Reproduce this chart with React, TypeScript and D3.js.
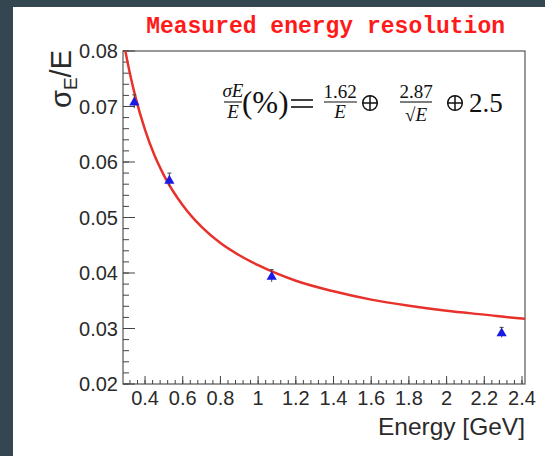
import React from "react";
import * as d3 from "d3";

const energies = [0.343, 0.529, 1.072, 2.292];
const resolutions = [0.0709, 0.0568, 0.0395, 0.0293];
const errors = [0.0012, 0.0012, 0.0011, 0.0009];

const fitEnergies = [0.29, 0.297, 0.32, 0.35, 0.4, 0.45, 0.5, 0.6, 0.7, 0.8, 0.9, 1.0, 1.2, 1.4, 1.6, 1.8, 2.0, 2.2, 2.4, 2.45];
const fitValues = [0.0812, 0.0798, 0.0759, 0.0716, 0.0658, 0.0612, 0.0576, 0.0522, 0.0483, 0.0454, 0.0432, 0.0414, 0.0386, 0.0367, 0.0352, 0.0341, 0.0332, 0.0325, 0.0318, 0.0317];

const xTickLabels = ["0.4", "0.6", "0.8", "1", "1.2", "1.4", "1.6", "1.8", "2", "2.2", "2.4"];
const yTickLabels = ["0.02", "0.03", "0.04", "0.05", "0.06", "0.07", "0.08"];

const W = 545;
const H = 456;
const L = 123, R = 525, T = 51, B = 384;

function OPlus({ cx, cy }: { cx: number; cy: number }) {
  const r = 7.3;
  return (
    <g stroke="#111" strokeWidth={1.5} fill="none">
      <circle cx={cx} cy={cy} r={r} />
      <line x1={cx - r} x2={cx + r} y1={cy} y2={cy} />
      <line x1={cx} x2={cx} y1={cy - r} y2={cy + r} />
    </g>
  );
}

export default function App() {
  const x = d3.scaleLinear().domain([0.283, 2.416]).range([L, R]);
  const y = d3.scaleLinear().domain([0.02, 0.08]).range([B, T]);

  const xMinor = d3.range(0.32, 2.416, 0.04).filter((v) => v >= 0.283);
  const yMinor = d3.range(0.02, 0.0801, 0.002);

  const line = d3
    .line<number>()
    .x((_, i) => x(fitEnergies[i]))
    .y((v) => y(v))
    .curve(d3.curveMonotoneX);

  const tri = d3.symbol().type(d3.symbolTriangle).size(45)();
  const sans = "'Liberation Sans', Arial, Helvetica, sans-serif";
  const serif = "'Liberation Serif', 'Times New Roman', serif";

  return (
    <svg width={W} height={H} style={{ position: "absolute", left: 0, top: 0 }}>
      <rect x={0} y={0} width={W} height={H} fill="#34464f" />
      <rect x={13} y={7} width={W - 13} height={H - 7} fill="#ffffff" />
      <defs>
        <clipPath id="plotclip">
          <rect x={L} y={T} width={R - L} height={B - T} />
        </clipPath>
      </defs>
      <text
        x={505}
        y={33}
        textAnchor="end"
        fontFamily="'Liberation Mono', 'Courier New', monospace"
        fontWeight="bold"
        fontSize={23}
        fill="#ff1a1a"
      >
        Measured energy resolution
      </text>

      {/* frame */}
      <rect x={L} y={T} width={R - L} height={B - T} fill="none" stroke="#555" strokeWidth={1.2} />

      {/* x ticks */}
      {xMinor.map((v, i) => (
        <line key={"xm" + i} x1={x(v)} x2={x(v)} y1={B} y2={B - 4} stroke="#444" strokeWidth={1} />
      ))}
      {xTickLabels.map((t) => (
        <g key={"xt" + t}>
          <line x1={x(+t)} x2={x(+t)} y1={B} y2={B - 8} stroke="#444" strokeWidth={1} />
          <text x={x(+t)} y={405} textAnchor="middle" fontFamily={sans} fontSize={20} fill="#2a2a2a">
            {t}
          </text>
        </g>
      ))}
      {/* y ticks */}
      {yMinor.map((v, i) => (
        <line key={"ym" + i} x1={L} x2={L + 6} y1={y(v)} y2={y(v)} stroke="#444" strokeWidth={1} />
      ))}
      {yTickLabels.map((t) => (
        <g key={"yt" + t}>
          <line x1={L} x2={L + 12} y1={y(+t)} y2={y(+t)} stroke="#444" strokeWidth={1} />
          <text x={118} y={y(+t)} dy="0.36em" textAnchor="end" fontFamily={sans} fontSize={20} fill="#2a2a2a">
            {t}
          </text>
        </g>
      ))}

      {/* axis titles */}
      <text x={525} y={435} textAnchor="end" fontFamily={sans} fontSize={24.5} fill="#2a2a2a">
        Energy [GeV]
      </text>
      <text
        transform="translate(71,50) rotate(-90)"
        textAnchor="end"
        fontFamily={sans}
        fontSize={29}
        fill="#2a2a2a"
      >
        σ<tspan fontSize={19} dy={6}>E</tspan>
        <tspan dy={-6}>/E</tspan>
      </text>

      {/* fit curve */}
      <g clipPath="url(#plotclip)">
        <path d={line(fitValues) || ""} fill="none" stroke="#e8312a" strokeWidth={2.5} />
      </g>

      {/* data points */}
      {energies.map((e, i) => (
        <g key={"p" + i}>
          <line x1={x(e)} x2={x(e)} y1={y(resolutions[i] - errors[i])} y2={y(resolutions[i] + errors[i])} stroke="#444" strokeWidth={1} />
          <line x1={x(e) - 2} x2={x(e) + 2} y1={y(resolutions[i] + errors[i])} y2={y(resolutions[i] + errors[i])} stroke="#444" strokeWidth={1} />
          <path d={tri || ""} transform={`translate(${x(e)},${y(resolutions[i]) + 1})`} fill="#1a1ae6" />
        </g>
      ))}

      {/* formula */}
      <g fontFamily={serif} fill="#111">
        <text x={233} y={97} textAnchor="middle" fontSize={19} fontStyle="italic">σE</text>
        <line x1={224} x2={242} y1={102} y2={102} stroke="#111" strokeWidth={1.1} />
        <text x={233} y={118} textAnchor="middle" fontSize={19} fontStyle="italic">E</text>
        <text x={242} y={113} fontSize={31}>(%)</text>
        <line x1={291} x2={313} y1={100} y2={100} stroke="#111" strokeWidth={1.6} />
        <line x1={291} x2={313} y1={107} y2={107} stroke="#111" strokeWidth={1.6} />
        <text x={340} y={98} textAnchor="middle" fontSize={19}>1.62</text>
        <line x1={324} x2={357} y1={102} y2={102} stroke="#111" strokeWidth={1.1} />
        <text x={340} y={118} textAnchor="middle" fontSize={19} fontStyle="italic">E</text>
        <OPlus cx={370} cy={103} />
        <text x={416} y={98} textAnchor="middle" fontSize={19}>2.87</text>
        <line x1={400} x2={432} y1={102} y2={102} stroke="#111" strokeWidth={1.1} />
        <text x={416} y={121} textAnchor="middle" fontSize={19}>
          √<tspan fontStyle="italic">E</tspan>
        </text>
        <OPlus cx={455} cy={103} />
        <text x={469} y={112} fontSize={27}>2.5</text>
      </g>
    </svg>
  );
}
